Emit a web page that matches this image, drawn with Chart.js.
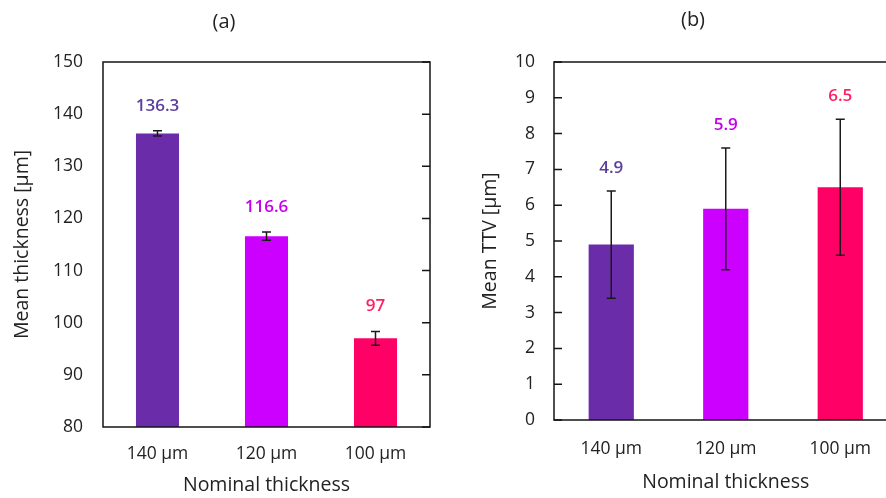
<!DOCTYPE html>
<html>
<head>
<meta charset="utf-8">
<script src="https://cdn.jsdelivr.net/npm/chart.js@4.4.1/dist/chart.umd.min.js"></script>
<style>
html, body { margin: 0; padding: 0; background: #fff; overflow: hidden; }
#wrapA { position: absolute; left: 0; top: 0; width: 443px; height: 498px; }
#wrapB { position: absolute; left: 443px; top: 0; width: 500px; height: 498px; }
</style>
</head>
<body>
<div id="wrapA"><canvas id="chartA"></canvas></div>
<div id="wrapB"><canvas id="chartB"></canvas></div>
<script>
// data
const categories = ['140 μm', '120 μm', '100 μm'];
const thickness = [136.3, 116.6, 97];
const thicknessErr = [0.5, 0.8, 1.3];
const ttv = [4.9, 5.9, 6.5];
const ttvErr = [1.5, 1.7, 1.9];
const thicknessTicks = [80, 90, 100, 110, 120, 130, 140, 150];
const ttvTicks = [0, 1, 2, 3, 4, 5, 6, 7, 8, 9, 10];

const barColors = ['#6a2ca8', '#cc00ff', '#ff0066'];
const labelColors = ['#5b3f9c', '#c400ec', '#ff1f62'];
const FONT = '"Open Sans", "Noto Sans", sans-serif';

// error bars + value labels above them
const errorBars = {
    id: 'errorBars',
    afterDatasetsDraw(chart, args, opts) {
        const ctx = chart.ctx;
        const y = chart.scales.y;
        const meta = chart.getDatasetMeta(0);
        const data = chart.data.datasets[0].data;
        ctx.save();
        meta.data.forEach(function(bar, i) {
            const v = data[i], e = opts.err[i];
            const top = y.getPixelForValue(v + e);
            const bot = y.getPixelForValue(v - e);
            ctx.strokeStyle = '#1a1a1a';
            ctx.lineWidth = 1.5;
            ctx.beginPath();
            ctx.moveTo(bar.x, top); ctx.lineTo(bar.x, bot);
            ctx.moveTo(bar.x - 4.5, top); ctx.lineTo(bar.x + 4.5, top);
            ctx.moveTo(bar.x - 4.5, bot); ctx.lineTo(bar.x + 4.5, bot);
            ctx.stroke();
            ctx.fillStyle = labelColors[i];
            ctx.font = '600 17px ' + FONT;
            ctx.textAlign = 'center';
            ctx.textBaseline = 'middle';
            ctx.fillText(String(v), bar.x, top - opts.gap);
        });
        ctx.restore();
    }
};

// box round the plot with small inward ticks
const frame = {
    id: 'frame',
    afterDraw(chart, args, opts) {
        const ctx = chart.ctx;
        const a = chart.chartArea;
        const y = chart.scales.y;
        ctx.save();
        ctx.strokeStyle = '#151515';
        ctx.lineWidth = 1.5;
        ctx.strokeRect(a.left, a.top, a.right - a.left, a.bottom - a.top);
        ctx.beginPath();
        y.ticks.forEach(function(t) {
            const py = y.getPixelForValue(t.value);
            if (opts.side === 'right') {
                ctx.moveTo(a.right, py); ctx.lineTo(a.right - 8, py);
            } else {
                ctx.moveTo(a.left, py); ctx.lineTo(a.left + 8, py);
            }
        });
        ctx.stroke();
        ctx.restore();
    }
};

function makeChart(id, cfg) {
    return new Chart(document.getElementById(id), {
        type: 'bar',
        data: {
            labels: categories,
            datasets: [{
                data: cfg.values,
                backgroundColor: barColors,
                borderWidth: 0,
                barPercentage: 0.395,
                categoryPercentage: 1
            }]
        },
        options: {
            responsive: true,
            maintainAspectRatio: false,
            animation: false,
            layout: { padding: { left: cfg.padLeft, right: cfg.padRight, top: 0, bottom: 0 } },
            plugins: {
                legend: { display: false },
                tooltip: { enabled: false },
                title: {
                    display: true,
                    text: cfg.title,
                    color: '#222',
                    font: { family: FONT, size: 20, weight: 'normal', lineHeight: 1.2 },
                    padding: { top: cfg.titleTop, bottom: 62 - 24 - cfg.titleTop }
                },
                errorBars: { err: cfg.err, gap: cfg.gap },
                frame: { side: cfg.side }
            },
            scales: {
                x: {
                    grid: { display: false, drawTicks: false },
                    border: { display: false },
                    ticks: { color: '#222', padding: cfg.xTickPad, font: { family: FONT, size: 17.5 } },
                    title: {
                        display: true,
                        text: 'Nominal thickness',
                        color: '#222',
                        font: { family: FONT, size: 19.5, lineHeight: 1.2 },
                        padding: { top: 0, bottom: cfg.xTitlePad }
                    },
                    afterFit: function(s) { s.height = cfg.xHeight; }
                },
                y: {
                    min: cfg.ticks[0],
                    max: cfg.ticks[cfg.ticks.length - 1],
                    grid: { display: false, drawTicks: false },
                    border: { display: false },
                    afterBuildTicks: function(s) { s.ticks = cfg.ticks.map(function(v) { return { value: v }; }); },
                    ticks: { color: '#222', padding: cfg.yTickPad, font: { family: FONT, size: 17.5 } },
                    title: {
                        display: true,
                        text: cfg.yTitle,
                        color: '#222',
                        font: { family: FONT, size: 19.5, lineHeight: 1.2 },
                        padding: { top: cfg.yTitlePad, bottom: 0 }
                    },
                    afterFit: function(s) { s.width = cfg.yWidth; }
                }
            }
        },
        plugins: [errorBars, frame]
    });
}

makeChart('chartA', {
    title: '(a)', values: thickness, err: thicknessErr, ticks: thicknessTicks,
    yTitle: 'Mean thickness [μm]', side: 'right', gap: 25,
    padLeft: 18, padRight: 13, titleTop: 10, yWidth: 85, yTickPad: 20, yTitlePad: -7.7,
    xHeight: 71, xTickPad: 16.5, xTitlePad: 1
});

makeChart('chartB', {
    title: '(b)', values: ttv, err: ttvErr, ticks: ttvTicks,
    yTitle: 'Mean TTV [μm]', side: 'left', gap: 23,
    padLeft: 45.5, padRight: 45.5, titleTop: 8, yWidth: 65.5, yTickPad: 19, yTitlePad: -10.2,
    xHeight: 78, xTickPad: 18.5, xTitlePad: 4
});
</script>
</body>
</html>
